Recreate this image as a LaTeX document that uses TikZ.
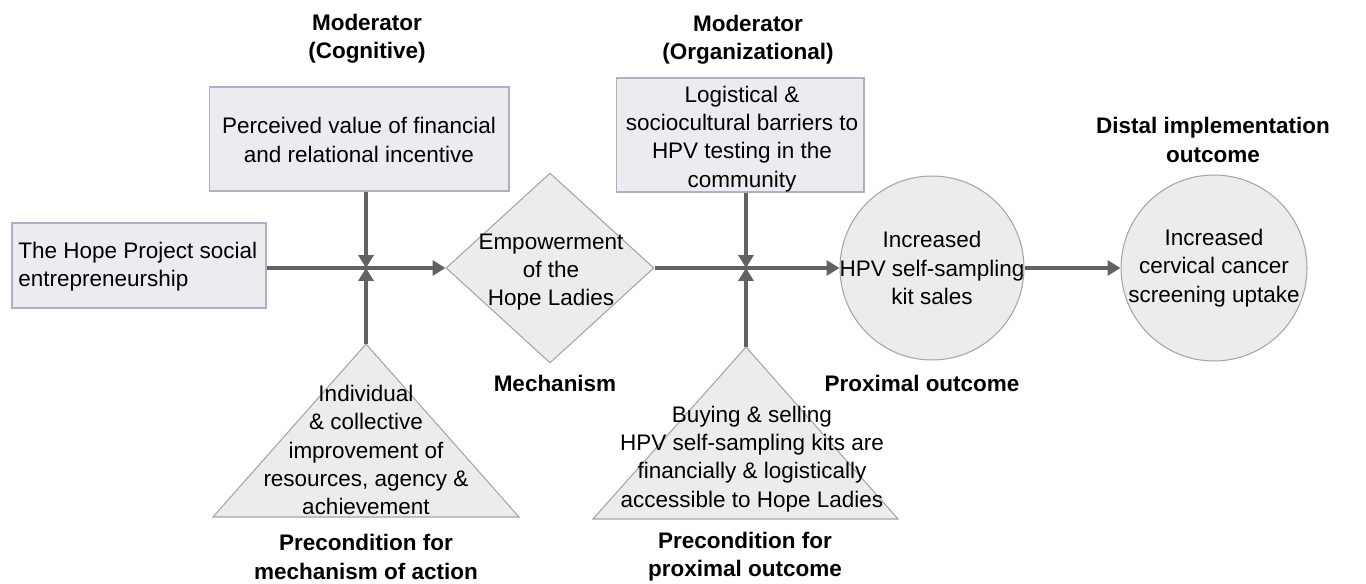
\documentclass[tikz,border=0pt]{standalone}
\usepackage{fontspec}
\setmainfont{Liberation Sans}
\usetikzlibrary{shapes.geometric,arrows.meta}
\definecolor{boxfill}{RGB}{236,236,240}
\definecolor{boxline}{RGB}{178,174,200}
\definecolor{shapefill}{RGB}{236,236,236}
\definecolor{shapeline}{RGB}{165,165,165}
\definecolor{arrowgray}{RGB}{98,98,98}
\begin{document}
\begin{tikzpicture}[x=0.02cm, y=-0.02cm,
	font=\fontsize{12.8}{16.1}\selectfont,
	factor/.style={draw=boxline, fill=boxfill, line width=0.6pt, inner sep=0pt},
	shapebox/.style={draw=shapeline, fill=shapefill, line width=0.6pt, inner sep=0pt},
	txt/.style={align=center, inner sep=0pt},
	head/.style={align=center, inner sep=0pt, font=\fontsize{12.8}{16.1}\selectfont\bfseries},
	link/.style={arrowgray, line width=2.3pt, -{Triangle[length=0.26cm, width=0.3cm]}}]
	\useasboundingbox (0,0) rectangle (1366,584);
	%boxes
	\node[factor, minimum width=5.08cm, minimum height=1.70cm] (hope) at (139,265.5) {};
	\node[txt, align=left, anchor=west] (hopetext) at (18,267) {The Hope Project social\\entrepreneurship};
	\node[factor, minimum width=6.00cm, minimum height=2.08cm] (cogn) at (359,139) {};
	\node[txt] (cogntext) at (359,140) {Perceived value of financial\\and relational incentive};
	\node[factor, minimum width=4.96cm, minimum height=2.28cm] (orga) at (740,135) {};
	\node[txt] (orgatext) at (742,139) {Logistical \&\\sociocultural barriers to\\HPV testing in the\\community};
	%shapes
	\node[shapebox, diamond, minimum width=4.16cm, minimum height=3.80cm] (mech) at (550,268) {};
	\node[txt] (mechtext) at (551,272) {Empowerment\\of the\\Hope Ladies};
	\node[shapebox, circle, minimum size=3.68cm] (prox) at (932,268) {};
	\node[txt] (proxtext) at (932,268) {Increased\\HPV self-sampling\\kit sales};
	\node[shapebox, circle, minimum size=3.72cm] (dist) at (1214,268) {};
	\node[txt] (disttext) at (1214,268) {Increased\\cervical cancer\\screening uptake};
	%triangles
	\filldraw[draw=shapeline, fill=shapefill, line width=0.6pt] (366,344) coordinate (pre1) -- (519,517) -- (213,517) -- cycle;
	\node[txt] (pre1text) at (366,450) {Individual\\\& collective\\improvement of\\resources, agency \&\\achievement};
	\filldraw[draw=shapeline, fill=shapefill, line width=0.6pt] (746,347) coordinate (pre2) -- (898,519) -- (593,519) -- cycle;
	\node[txt] (pre2text) at (752,459) {Buying \& selling\\HPV self-sampling kits are\\financially \& logistically\\accessible to Hope Ladies};
	%labels
	\node[head] (cognlab) at (367,39) {Moderator\\(Cognitive)};
	\node[head] (orgalab) at (748,40) {Moderator\\(Organizational)};
	\node[head] (mechlab) at (555,383) {Mechanism};
	\node[head] (proxlab) at (922,383) {Proximal outcome};
	\node[head] (distlab) at (1213,140) {Distal implementation\\outcome};
	\node[head] (pre1lab) at (366,557) {Precondition for\\mechanism of action};
	\node[head] (pre2lab) at (745,557) {Precondition for\\proximal outcome};
	%junctions
	\coordinate (j1) at (366,268);
	\coordinate (j2) at (746,268);
	%arrows
	\draw[link] (hope.east |- j1) -- (mech.west);
	\draw[link] (mech.east) -- (prox.west);
	\draw[link] (prox.east) -- (dist.west);
	\draw[link] (cogn.south -| j1) -- (j1);
	\draw[link] (pre1) -- (j1);
	\draw[link] (orga.south -| j2) -- (j2);
	\draw[link] (pre2) -- (j2);
\end{tikzpicture}
\end{document}
